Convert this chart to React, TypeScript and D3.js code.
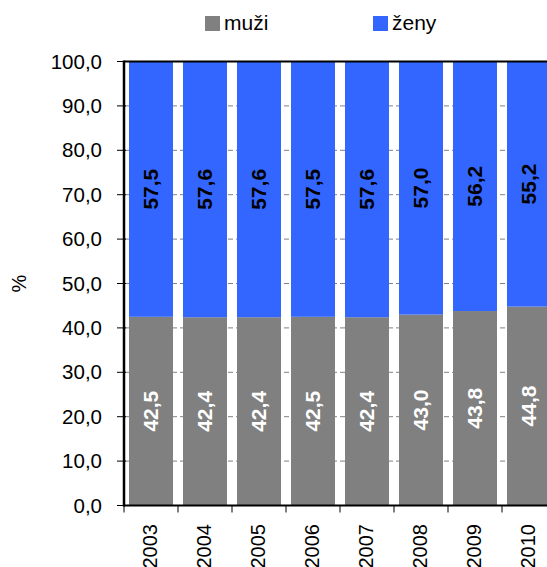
import * as d3 from 'd3';

const years = ['2003', '2004', '2005', '2006', '2007', '2008', '2009', '2010'];
const muzi = [42.5, 42.4, 42.4, 42.5, 42.4, 43.0, 43.8, 44.8];
const zeny = [57.5, 57.6, 57.6, 57.5, 57.6, 57.0, 56.2, 55.2];
const yTicks = [0, 10, 20, 30, 40, 50, 60, 70, 80, 90, 100];

const GRAY = '#808080';
const BLUE = '#3366FF';
const FONT = 'Arial, "Liberation Sans", sans-serif';

const W = 547;
const H = 567;
const left = 124;
const top = 61.5;
const bottom = 505.5;
const band = 54;

const fmt = (v: number) => v.toFixed(1).replace('.', ',');

export default function App() {
  const x = d3.scaleBand<string>().domain(years).range([left, left + band * years.length]).paddingInner(10 / 54).paddingOuter(5 / 54);
  const y = d3.scaleLinear().domain([0, 100]).range([bottom, top]);
  const bw = x.bandwidth();
  const right = left + band * years.length;

  return (
    <svg width={W} height={H} style={{ position: 'absolute', left: 0, top: 0 }} fontFamily={FONT}>
      {/* legend */}
      <rect x={205} y={16} width={15} height={15} fill={GRAY} />
      <text x={224} y={30} fontSize={21}>muži</text>
      <rect x={373} y={16} width={15} height={15} fill={BLUE} />
      <text x={392} y={30} fontSize={21}>ženy</text>

      {/* gridlines */}
      {yTicks.slice(1, -1).map((t) => (
        <line key={t} x1={left} x2={right} y1={y(t)} y2={y(t)} stroke="#808080" strokeWidth={1} strokeDasharray="5,3" />
      ))}

      {/* bars */}
      {years.map((yr, i) => (
        <g key={yr}>
          <rect x={x(yr)} y={y(muzi[i])} width={bw} height={y(0) - y(muzi[i])} fill={GRAY} />
          <rect x={x(yr)} y={y(100)} width={bw} height={y(muzi[i]) - y(100)} fill={BLUE} />
        </g>
      ))}

      {/* top border + axes */}
      <line x1={left} x2={right} y1={y(100)} y2={y(100)} stroke="#000" strokeWidth={2} />
      <line x1={left} x2={right} y1={y(0)} y2={y(0)} stroke="#000" strokeWidth={2} />
      <line x1={left} x2={left} y1={y(100) - 1} y2={y(0) + 1} stroke="#000" strokeWidth={2.5} />

      {/* y ticks */}
      {yTicks.map((t) => (
        <g key={t}>
          <line x1={left - 7} x2={left + 2} y1={y(t)} y2={y(t)} stroke="#000" strokeWidth={1} />
          <text x={102} y={y(t)} dy="0.35em" textAnchor="end" fontSize={20.5}>{fmt(t)}</text>
        </g>
      ))}
      <text transform={`translate(26,${(top + bottom) / 2}) rotate(-90)`} textAnchor="middle" fontSize={20}>%</text>

      {/* x ticks */}
      {d3.range(years.length + 1).map((i) => (
        <line key={i} x1={left + i * band} x2={left + i * band} y1={y(0)} y2={y(0) + 7} stroke="#000" strokeWidth={1} />
      ))}
      {years.map((yr) => {
        const cx = (x(yr) ?? 0) + bw / 2 - 1;
        return (
          <text key={yr} transform={`translate(${cx},524) rotate(-90)`} dy="0.35em" textAnchor="end" fontSize={20}>{yr}</text>
        );
      })}

      {/* value labels */}
      {years.map((yr, i) => {
        const cx = (x(yr) ?? 0) + bw / 2;
        const cyM = (y(0) + y(muzi[i])) / 2;
        const cyZ = (y(muzi[i]) + y(100)) / 2;
        return (
          <g key={yr} fontWeight="bold" fontSize={21}>
            <text transform={`translate(${cx},${cyM}) rotate(-90)`} dy="0.35em" textAnchor="middle" fill="#fff">{fmt(muzi[i])}</text>
            <text transform={`translate(${cx},${cyZ}) rotate(-90)`} dy="0.35em" textAnchor="middle" fill="#000">{fmt(zeny[i])}</text>
          </g>
        );
      })}
    </svg>
  );
}
